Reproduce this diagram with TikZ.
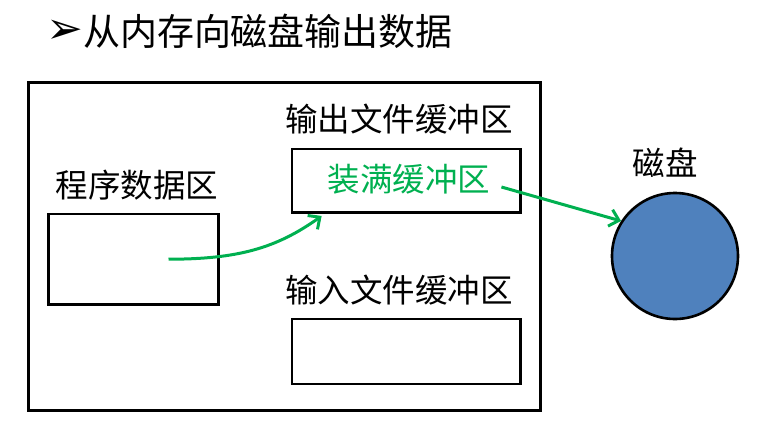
\documentclass[tikz,border=0pt]{standalone}
\usepackage{fontspec}
\setmainfont{Noto Sans CJK SC}
\newfontfamily\symfont{DejaVu Sans}
\usetikzlibrary{arrows.meta, positioning, calc}
\definecolor{mygreen}{RGB}{0,176,80}
\definecolor{myblue}{RGB}{79,129,189}
\tikzset{
  box/.style={rectangle, draw=black, line width=2.6pt, inner sep=0pt},
  lbl/.style={font=\fontsize{32.5}{36}\selectfont, inner sep=0pt},
  garrow/.style={-{Straight Barb[length=9pt,width=17pt]}, line width=3pt, color=mygreen}
}
\begin{document}
\begin{tikzpicture}[x=1pt, y=-1pt]
\useasboundingbox (0,0) rectangle (764,424);

% title
\node[inner sep=0pt, font=\symfont\fontsize{44}{46}\selectfont] (bullet) at (65,32) {➢};
\node[inner sep=0pt, font=\fontsize{37}{40}\selectfont] (title) at (268,31) {从内存向磁盘输出数据};

% memory frame and buffers
\node[box, minimum width=512.4pt, minimum height=328pt] (mem) at (284.5,246.7) {};
\node[box, minimum width=170.4pt, minimum height=90.3pt] (prog) at (133.5,259.2) {};
\node[box, minimum width=228.7pt, minimum height=63.7pt] (outbuf) at (406.3,180.8) {};
\node[box, minimum width=228.7pt, minimum height=65pt] (inbuf) at (406.3,351.5) {};

\node[lbl] (progl) at (137,185) {程序数据区};
\node[lbl] (outl) at (399,119) {输出文件缓冲区};
\node[lbl] (inl) at (399,290) {输入文件缓冲区};
\node[lbl, text=mygreen] (fill) at (409,179) {装满缓冲区};

% disk
\node[circle, draw=black, line width=2.6pt, fill=myblue, minimum size=126pt, inner sep=0pt] (disk) at (675,256) {};
\node[lbl] (diskl) at (665,163) {磁盘};

\draw[garrow] ([xshift=35pt]prog.center) .. controls +(70,0) and +(-45,32) .. ([xshift=31pt,yshift=-2pt]outbuf.south west);
\draw[garrow] ([xshift=11pt,yshift=-8pt]fill.east) -- (disk.147);
\end{tikzpicture}
\end{document}
